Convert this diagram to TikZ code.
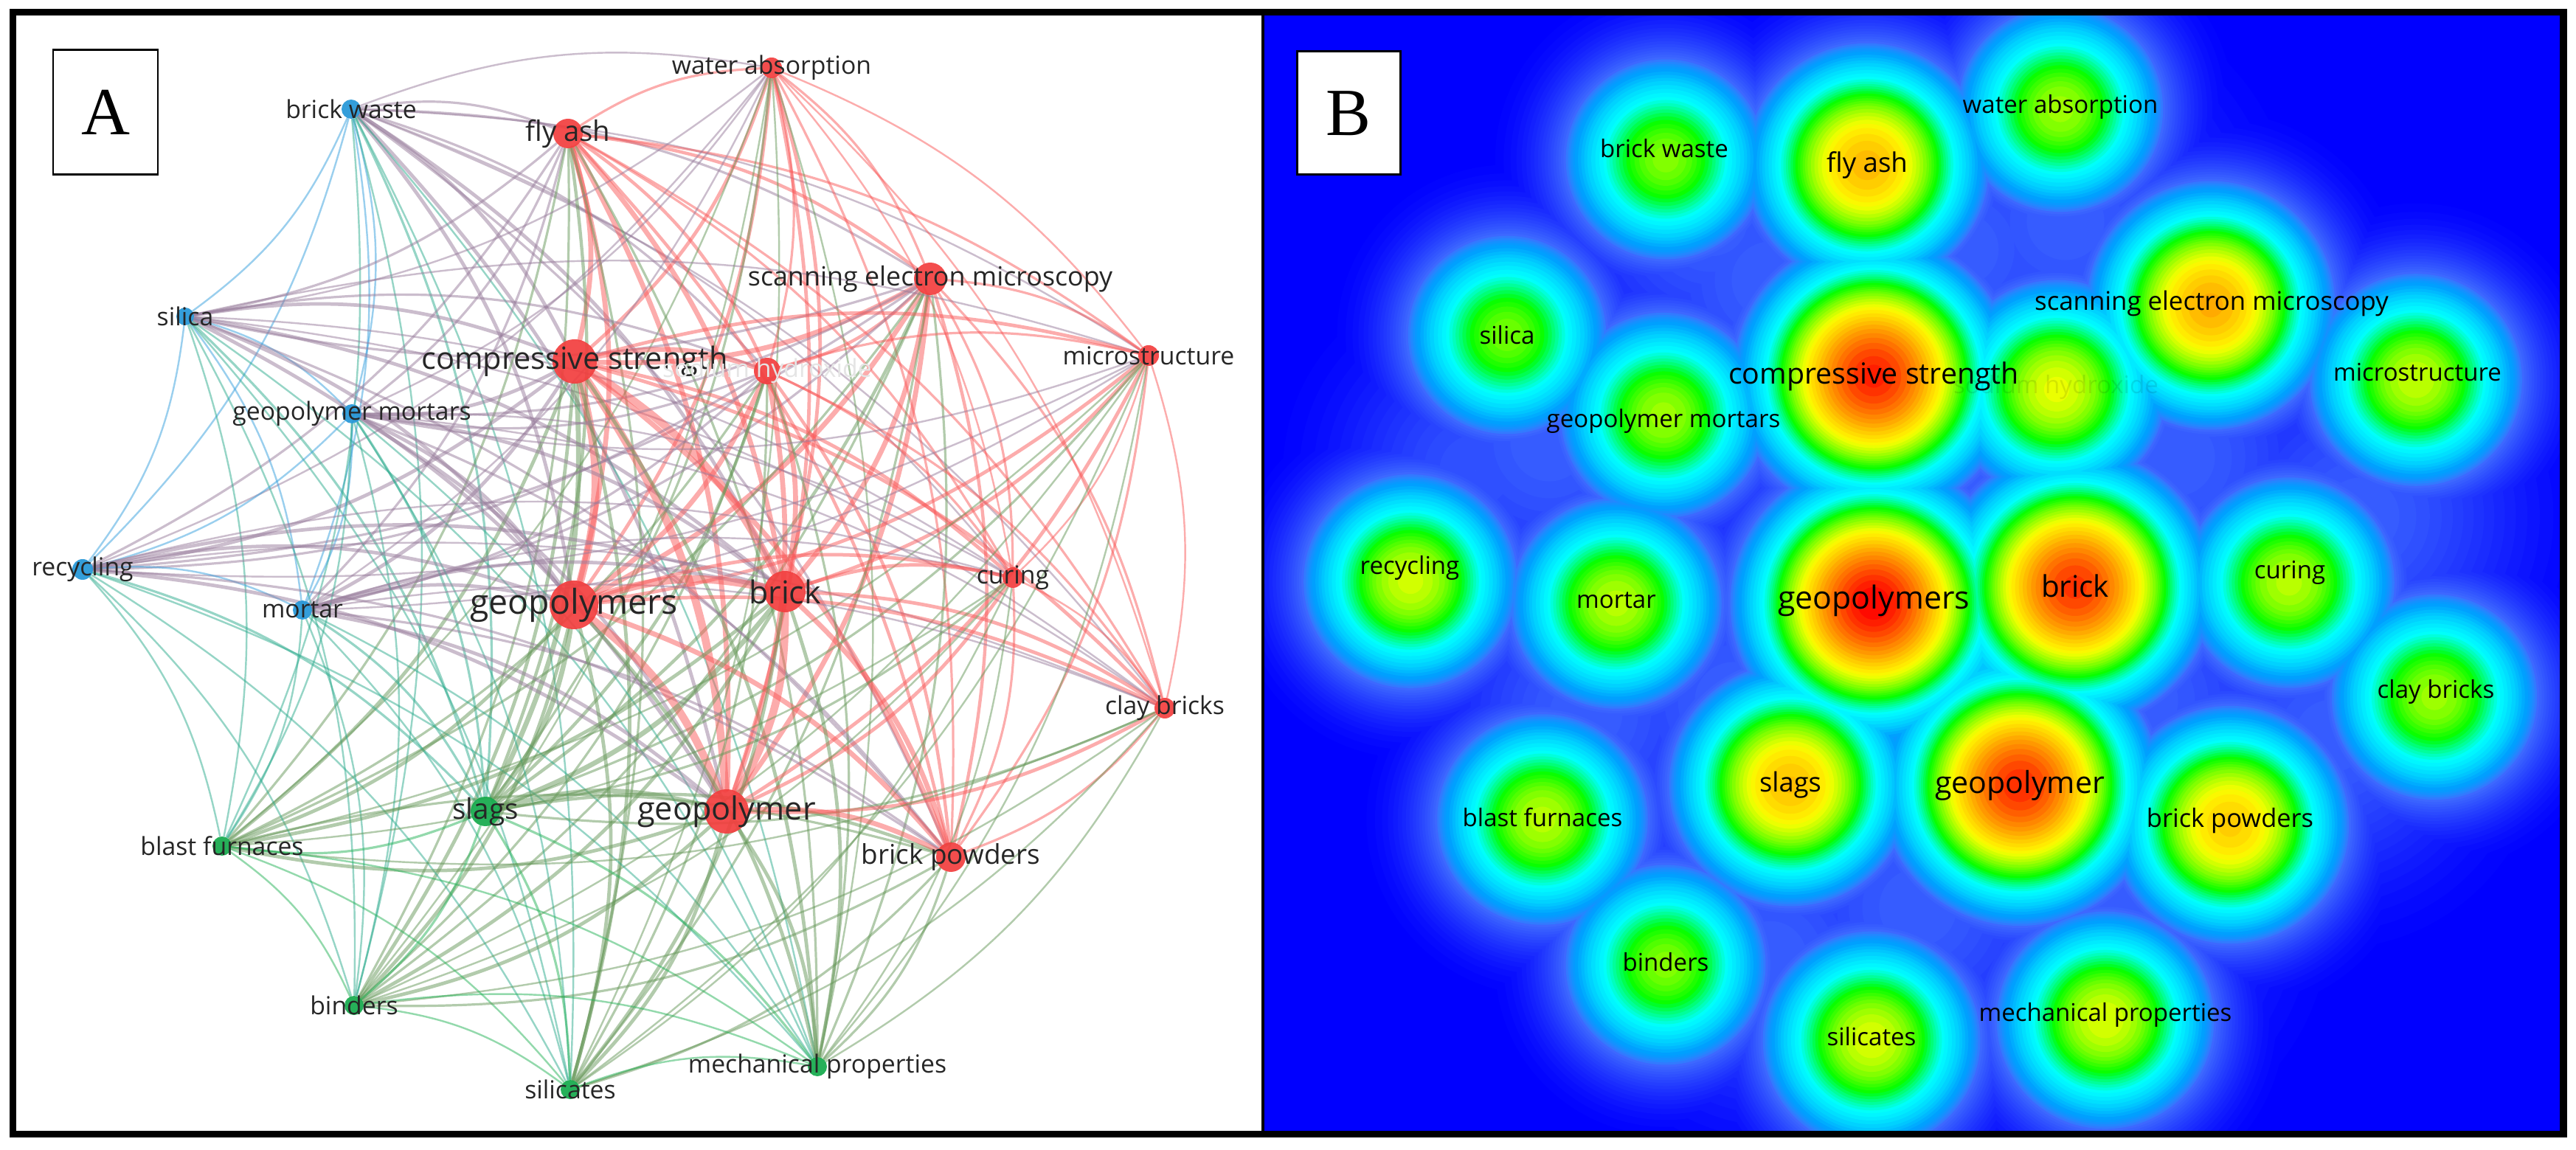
\documentclass[tikz,border=0pt]{standalone}
\usepackage{fontspec}
\setmainfont{Open Sans}
\newfontfamily\boxfont{Liberation Serif}
\usetikzlibrary{backgrounds}

\definecolor{nr}{RGB}{242,62,62}
\definecolor{nb}{RGB}{35,150,215}
\definecolor{ng}{RGB}{20,170,75}
\definecolor{er}{RGB}{250,90,90}
\definecolor{eb}{RGB}{55,160,222}
\definecolor{eg}{RGB}{40,180,90}
\definecolor{heatblue}{RGB}{0,0,255}
\colorlet{erb}{er!50!eb}
\colorlet{erg}{eg!70!er}
\colorlet{ebg}{eb!40!eg}
\def\mixrr{er}\def\mixbb{eb}\def\mixgg{eg}
\def\mixrb{erb}\def\mixbr{erb}
\def\mixrg{erg}\def\mixgr{erg}
\def\mixbg{ebg}\def\mixgb{ebg}

\pgfdeclarelayer{edges}
\pgfsetlayers{background,edges,main}

\tikzset{
  adot/.style={circle, inner sep=0pt, draw=none, fill opacity=0.92},
  alabel/.style={text=black!85, inner sep=0pt},
  hlabel/.style={text=black, inner sep=0pt},
  link/.style={draw opacity=0.5, line cap=round},
  panelbox/.style={draw=black, line width=0.85pt, fill=white, minimum width=1.42cm,
    minimum height=1.69cm, inner sep=0pt, font=\boxfont\fontsize{26}{26}\selectfont},
}

\begin{document}
\begin{tikzpicture}
\useasboundingbox (0,0) rectangle (34.92,15.58);

\begin{pgfonlayer}{background}
  \fill[white] (0.22,0.25) rectangle (17.10,15.38);
\end{pgfonlayer}

% A: co-occurrence network
\foreach \n/\x/\y/\cl/\w/\r in {
  bw/4.76/14.10/b/2/0.13, fa/7.70/13.77/r/3/0.20, wa/10.46/14.66/r/2/0.14,
  sem/12.61/11.80/r/3/0.22, si/2.51/11.29/b/2/0.12, cs/7.79/10.68/r/5/0.30,
  sh/10.40/10.55/r/3/0.18, ms/15.57/10.76/r/2/0.14, gm/4.77/9.97/b/2/0.13,
  rc/1.12/7.86/b/2/0.14, mo/4.10/7.31/b/2/0.13, gps/7.78/7.38/r/5/0.33,
  br/10.64/7.56/r/5/0.28, cu/13.73/7.75/r/2/0.14, cb/15.79/5.98/r/2/0.14,
  sl/6.58/4.58/g/3/0.20, gp/9.85/4.58/r/5/0.30, bf/3.01/4.11/g/2/0.13,
  bp/12.89/3.96/r/3/0.20, bi/4.80/1.95/g/2/0.13, sc/7.73/0.81/g/2/0.13,
  mp/11.08/1.12/g/2/0.13}{
  \node[adot, fill=n\cl, minimum size=2*\r cm] (a-\n) at (\x,\y) {};
  \expandafter\xdef\csname kc\n\endcsname{\cl}
  \expandafter\xdef\csname kw\n\endcsname{\w}
}

\begin{pgfonlayer}{edges}
\foreach \a [count=\i] in {bw,fa,wa,sem,si,cs,sh,ms,gm,rc,mo,gps,br,cu,cb,sl,gp,bf,bp,bi,sc,mp}{
  \foreach \b [count=\j] in {bw,fa,wa,sem,si,cs,sh,ms,gm,rc,mo,gps,br,cu,cb,sl,gp,bf,bp,bi,sc,mp}{
    \ifnum\j>\i
      \edef\wa{\csname kw\a\endcsname}\edef\wb{\csname kw\b\endcsname}
      \pgfmathsetmacro\lw{0.11*\wa*\wb+0.25}
      \edef\ec{\csname mix\csname kc\a\endcsname\csname kc\b\endcsname\endcsname}
      \draw[link, draw=\ec, line width=\lw pt] (a-\a) to[bend left=15] (a-\b);
    \fi
  }
}
\end{pgfonlayer}

\foreach \n/\fs/\tc/\lab in {
  bw/9.6/black!85/brick waste, fa/10.9/black!85/fly ash, wa/9.6/black!85/water absorption,
  sem/10.2/black!85/scanning electron microscopy, si/9.6/black!85/silica,
  cs/11.8/black!85/compressive strength, sh/9.6/black!10/sodium hydroxide,
  ms/9.6/black!85/microstructure, gm/9.6/black!85/geopolymer mortars,
  rc/9.6/black!85/recycling, mo/9.6/black!85/mortar, gps/13.2/black!85/geopolymers,
  br/12.2/black!85/brick, cu/9.6/black!85/curing, cb/9.6/black!85/clay bricks,
  sl/11/black!85/slags, gp/12.3/black!85/geopolymer, bf/9.6/black!85/blast furnaces,
  bp/10.5/black!85/brick powders, bi/9.6/black!85/binders, sc/9.6/black!85/silicates,
  mp/9.6/black!85/mechanical properties}{
  \node[alabel, text=\tc, font=\fontsize{\fs}{\fs}\selectfont] (al-\n) at (a-\n.center) {\lab};
}

% B: density map
\begin{scope}
  \clip (17.14,0.25) rectangle (34.71,15.38);
  \fill[heatblue] (17.14,0.25) rectangle (34.71,15.38);
  \foreach \t/\R/\G/\B in {
    0.03/2/4/255, 0.04/5/9/255, 0.05/8/14/255, 0.06/12/20/255, 0.07/15/26/255,
    0.08/19/32/255, 0.09/22/38/255, 0.10/26/44/255, 0.11/29/50/255, 0.12/33/56/255,
    0.13/36/62/255, 0.14/40/68/255, 0.15/43/74/255, 0.16/47/80/255, 0.17/50/86/255,
    0.18/54/92/255, 0.19/57/98/255, 0.20/61/104/255, 0.21/50/122/255, 0.22/35/135/255,
    0.23/20/145/255, 0.24/8/153/255, 0.25/0/160/255, 0.265/0/172/255, 0.28/0/185/255,
    0.295/0/198/255, 0.31/0/210/255, 0.33/0/223/255, 0.35/0/235/255, 0.37/0/246/255,
    0.39/0/255/250, 0.405/0/255/220, 0.42/0/255/190, 0.435/0/255/155, 0.45/0/255/120,
    0.465/0/255/80, 0.48/0/255/40, 0.495/10/255/0, 0.51/30/255/0, 0.525/55/255/0,
    0.54/80/255/0, 0.555/105/255/0, 0.57/130/255/0, 0.59/158/255/0, 0.61/185/255/0,
    0.63/210/255/0, 0.65/235/255/0, 0.67/250/248/0, 0.69/255/235/0, 0.715/255/220/0,
    0.74/255/205/0, 0.765/255/188/0, 0.79/255/170/0, 0.815/255/152/0, 0.84/255/135/0,
    0.865/255/115/0, 0.89/255/95/0, 0.915/255/72/0, 0.94/255/50/0, 0.96/255/30/0,
    0.98/255/10/0}{
    \foreach \x/\y/\s/\g in {
      22.58/13.42/0.58/0.95, 25.31/13.34/0.78/1.02, 27.93/14.10/0.60/0.96,
      20.43/11.04/0.57/0.95, 25.40/10.48/0.97/1.09, 27.88/10.30/0.66/0.98,
      29.97/11.44/0.80/1.03, 32.75/10.43/0.63/0.97, 22.55/9.95/0.60/0.96,
      19.12/7.70/0.64/0.97, 21.91/7.40/0.62/0.97, 25.40/7.40/1.00/1.10,
      28.13/7.62/0.95/1.08, 31.03/7.68/0.62/0.97, 33.00/6.13/0.60/0.96,
      24.27/4.94/0.77/1.02, 27.38/4.93/0.96/1.09, 20.91/4.47/0.62/0.97,
      30.23/4.40/0.75/1.01, 22.58/2.50/0.58/0.95, 25.37/1.48/0.65/0.98,
      28.54/1.75/0.65/0.98,
      24.0/11.78/0.19/1.6, 27.0/8.78/0.19/1.6, 29.5/9.38/0.19/1.6,
      23.5/6.08/0.19/1.6, 26.0/3.28/0.19/1.6, 29.0/6.08/0.19/1.6,
      32.0/8.58/0.19/1.6, 21.0/9.58/0.19/1.6, 28.5/3.08/0.19/1.6,
      28.0/12.58/0.19/1.6, 23.2/12.6/0.19/1.5, 26.6/12.2/0.19/1.5,
      21.5/5.9/0.19/1.5, 24.0/2.6/0.19/1.5, 31.6/5.6/0.19/1.5,
      20.0/9.2/0.17/1.4}{
      \pgfmathsetmacro\rr{\g*sqrt(max(0,2*ln(\s/\t)))}
      \ifdim\rr pt>0.005pt
        \fill[fill={rgb,255:red,\R;green,\G;blue,\B}] (\x,\y) circle[radius=\rr];
      \fi
    }
  }
\end{scope}

\foreach \n/\x/\y/\fs/\op/\lab in {
  bw/22.56/13.57/9.4/1/brick waste, fa/25.31/13.34/10.4/1/fly ash,
  wa/27.93/14.13/9.4/1/water absorption, si/20.43/11.04/9.4/1/silica,
  cs/25.40/10.48/11.2/1/compressive strength, sh/27.87/10.33/9.4/0.1/sodium hydroxide,
  sem/29.98/11.47/9.9/1/scanning electron microscopy, ms/32.77/10.53/9.4/1/microstructure,
  gm/22.55/9.87/9.4/1/geopolymer mortars, rc/19.11/7.88/9.4/1/recycling,
  mo/21.91/7.44/9.4/1/mortar, gps/25.40/7.44/12.2/1/geopolymers,
  br/28.13/7.64/11.5/1/brick, cu/31.04/7.82/9.4/1/curing,
  cb/33.02/6.20/9.4/1/clay bricks, sl/24.27/4.94/10.3/1/slags,
  gp/27.38/4.93/11.7/1/geopolymer, bf/20.91/4.50/9.4/1/blast furnaces,
  bp/30.23/4.45/9.8/1/brick powders, bi/22.58/2.54/9.4/1/binders,
  sc/25.37/1.53/9.4/1/silicates, mp/28.54/1.82/9.4/1/mechanical properties}{
  \node[hlabel, text opacity=\op, font=\fontsize{\fs}{\fs}\selectfont] (b-\n) at (\x,\y) {\lab};
}

% panel letters and frame
\node[panelbox] (boxA) at (1.43,14.055) {A};
\node[panelbox, minimum width=1.40cm, minimum height=1.67cm] (boxB) at (18.28,14.045) {B};

\draw[line width=0.9pt] (17.12,0.25) -- (17.12,15.38);
\draw[line width=2.6pt] (0.175,0.205) rectangle (34.75,15.415);
\end{tikzpicture}
\end{document}
